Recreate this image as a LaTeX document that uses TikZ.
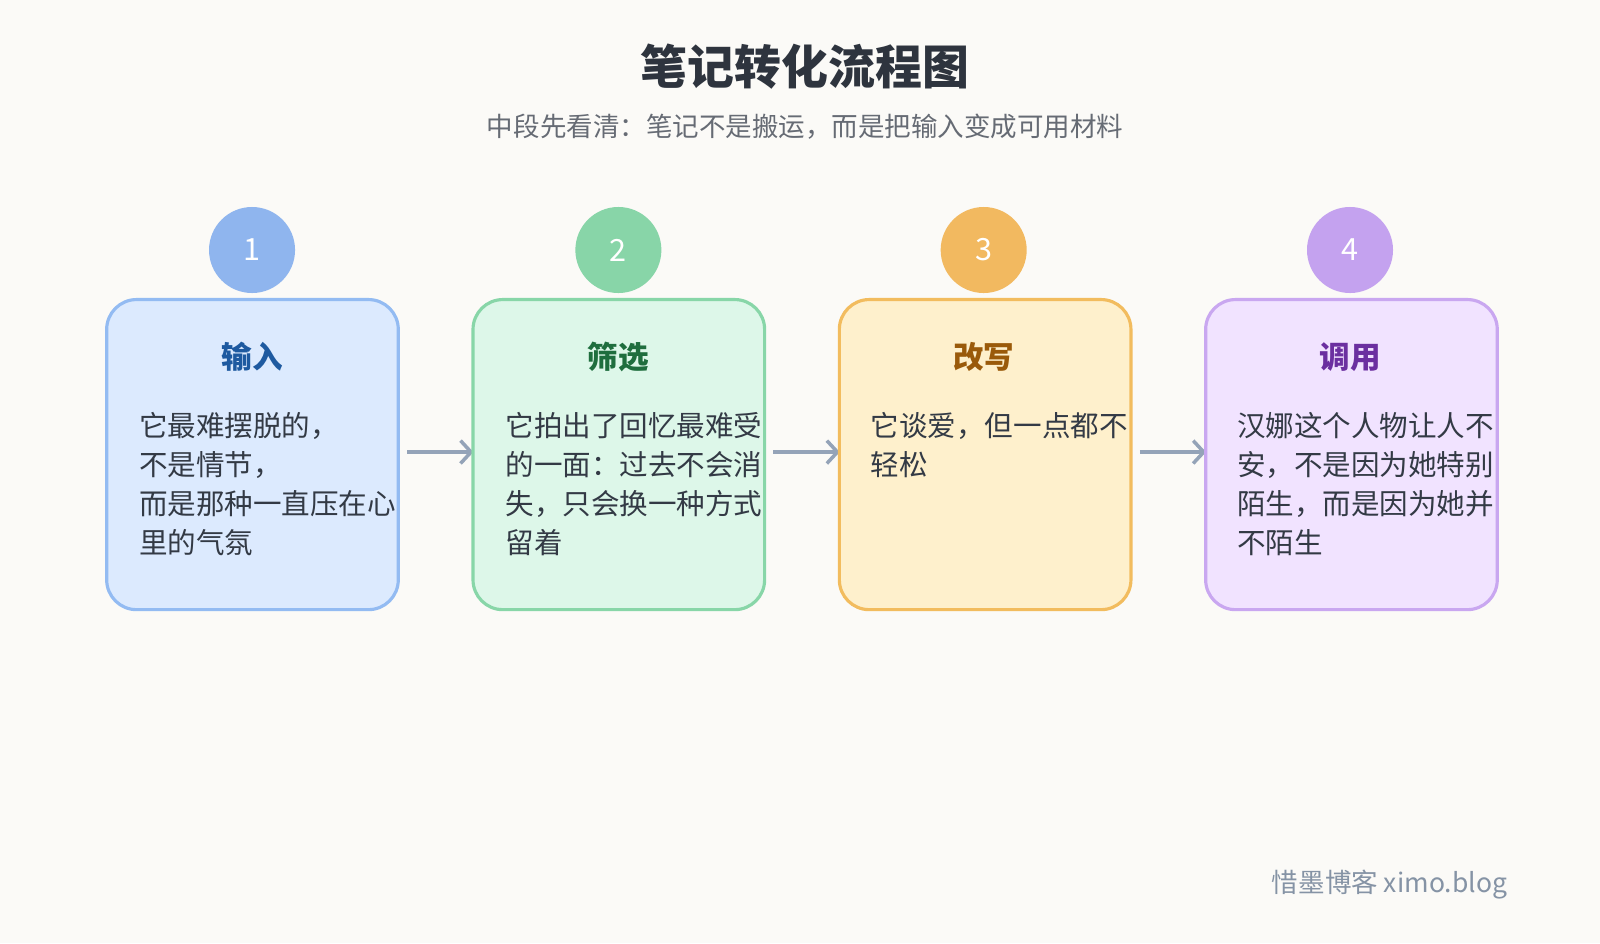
\documentclass[tikz,border=0pt]{standalone}
\usepackage{fontspec}
\setmainfont{Noto Sans CJK SC}
\usepackage{xcolor}
\usetikzlibrary{arrows.meta, positioning}
\definecolor{bg}{HTML}{FBFAF7}
\definecolor{ink}{HTML}{333A45}
\definecolor{arrowgray}{HTML}{94A3B8}
\definecolor{fillA}{HTML}{DCEAFE}\definecolor{lineA}{HTML}{93BBF2}\definecolor{dotA}{HTML}{8FB5EE}\definecolor{headA}{HTML}{1E5AA0}
\definecolor{fillB}{HTML}{DDF7E9}\definecolor{lineB}{HTML}{88D6A8}\definecolor{dotB}{HTML}{88D5A8}\definecolor{headB}{HTML}{1F6E3E}
\definecolor{fillC}{HTML}{FEF0CC}\definecolor{lineC}{HTML}{F2BC5E}\definecolor{dotC}{HTML}{F2B960}\definecolor{headC}{HTML}{9A5A0A}
\definecolor{fillD}{HTML}{F1E3FF}\definecolor{lineD}{HTML}{C9A7F0}\definecolor{dotD}{HTML}{C4A2EF}\definecolor{headD}{HTML}{6B2FA0}
\newcommand{\px}[1]{\fontsize{\dimexpr #1pt*580/1000\relax}{\dimexpr #1pt*790/1000\relax}\selectfont}
\tikzset{
  card/.style={draw=#1, line width=1.8pt, rounded corners=17pt, minimum width=5.83cm, minimum height=6.2cm, anchor=north west},
  badge/.style={circle, fill=#1, minimum size=1.72cm, text=white, font=\px{30}},
  heading/.style={text=#1, font=\px{30}\bfseries},
  body/.style={text=ink, font=\px{28}, align=left, anchor=north west, inner sep=0pt},
  flow/.style={draw=arrowgray, line width=2pt, -{Straight Barb[length=6pt,width=13pt]}}
}
\begin{document}
\begin{tikzpicture}[x=0.0204cm, y=-0.0204cm]
  \fill[bg] (0,0) rectangle (1568,924.2);
  \node[font=\px{46}\bfseries, text=ink!90!black] (title) at (789,65) {笔记转化流程图};
  \node[font=\px{26}, text=ink!75] (subtitle) at (789,124) {中段先看清：笔记不是搬运，而是把输入变成可用材料};

  % anchors for the flow arrows
  \coordinate (outA) at (399,443); \coordinate (inB) at (464,443);
  \coordinate (outB) at (758,443); \coordinate (inC) at (823,443);
  \coordinate (outC) at (1117,443); \coordinate (inD) at (1182,443);
  \draw[flow] (outA) -- (inB);
  \draw[flow] (outB) -- (inC);
  \draw[flow] (outC) -- (inD);

  \node[card=lineA, fill=fillA] (boxA) at (103,292) {};
  \node[card=lineB, fill=fillB] (boxB) at (462,292) {};
  \node[card=lineC, fill=fillC] (boxC) at (821,292) {};
  \node[card=lineD, fill=fillD] (boxD) at (1180,292) {};

  \node[badge=dotA] (dotA) at (247,245) {1};
  \node[badge=dotB] (dotB) at (606,245) {2};
  \node[badge=dotC] (dotC) at (964,245) {3};
  \node[badge=dotD] (dotD) at (1323,245) {4};

  \node[heading=headA] (headA) at (247,350) {输入};
  \node[heading=headB] (headB) at (606,350) {筛选};
  \node[heading=headC] (headC) at (964,350) {改写};
  \node[heading=headD] (headD) at (1323,350) {调用};

  \node[body] (textA) at (136,404) {它最难摆脱的，\\不是情节，\\而是那种一直压在心\\里的气氛};
  \node[body] (textB) at (495,404) {它拍出了回忆最难受\\的一面：过去不会消\\失，只会换一种方式\\留着};
  \node[body] (textC) at (853,404) {它谈爱，但一点都不\\轻松};
  \node[body] (textD) at (1212,404) {汉娜这个人物让人不\\安，不是因为她特别\\陌生，而是因为她并\\不陌生};

  \node[font=\px{26}, text=arrowgray!90!black, anchor=east] (mark) at (1483,867) {惜墨博客 ximo.blog};
\end{tikzpicture}
\end{document}
